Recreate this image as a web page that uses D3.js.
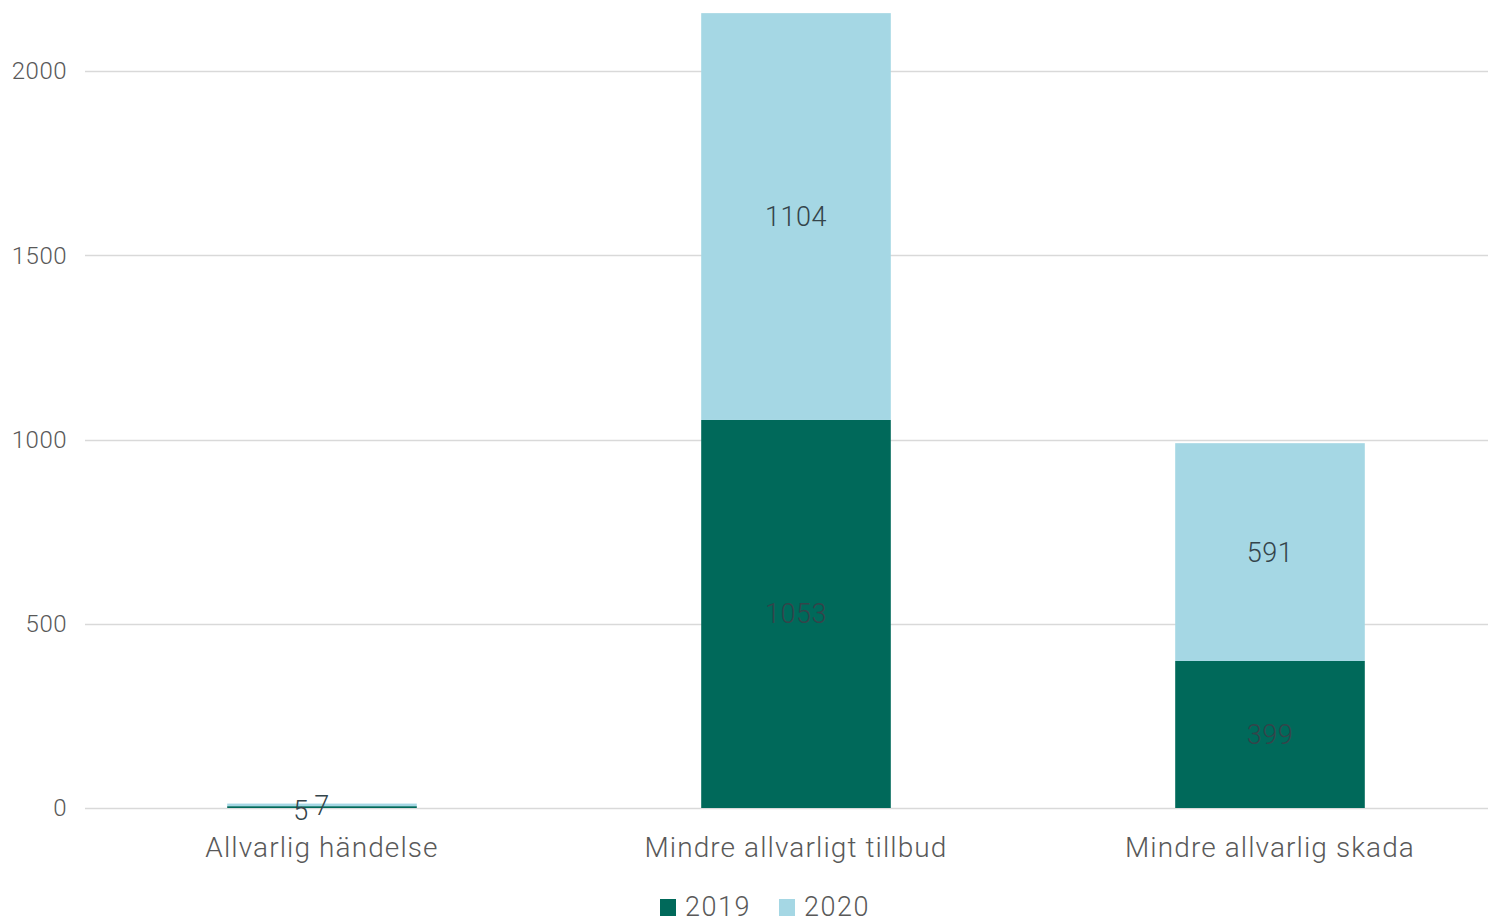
<!DOCTYPE html>
<html>
<head>
<meta charset="utf-8">
<script src="https://cdn.jsdelivr.net/npm/d3@7"></script>
<style>
  html, body { margin: 0; padding: 0; background: #fff; }
  svg { display: block; font-family: Roboto, "Liberation Sans", Arial, sans-serif; font-weight: 300; }
</style>
</head>
<body>
<svg id="chart" width="1488" height="923"></svg>
<script>
const categories = ["Allvarlig händelse", "Mindre allvarligt tillbud", "Mindre allvarlig skada"];
const seriesNames = ["2019", "2020"];
const values2019 = [5, 1053, 399];
const values2020 = [7, 1104, 591];
const yTicks = [0, 500, 1000, 1500, 2000];
const colors = ["#00695a", "#a5d7e4"];

(function () {
const svg = d3.select("#chart");
const W = 1488;
const left = 85, right = 1507, bottom = 808;

const x = d3.scaleBand().domain(categories).range([left, right]).paddingInner(0.6).paddingOuter(0.3);
const y = d3.scaleLinear().domain([0, 2000]).range([bottom, bottom - 737]);

// gridlines
svg.append("g").selectAll("line").data(yTicks).join("line")
  .attr("x1", left).attr("x2", W)
  .attr("y1", d => Math.round(y(d)) + 0.5).attr("y2", d => Math.round(y(d)) + 0.5)
  .attr("stroke", "#d9d9d9").attr("stroke-width", 1.5);

// y tick labels
svg.append("g").selectAll("text").data(yTicks).join("text")
  .attr("x", 67).attr("y", d => y(d)).attr("dy", "0.35em")
  .attr("text-anchor", "end").attr("font-size", 24).attr("fill", "#595959")
  .attr("letter-spacing", 0.5)
  .text(d => d);

const data = categories.map((c, i) => ({ cat: c, "2019": values2019[i], "2020": values2020[i] }));
const stacked = d3.stack().keys(seriesNames)(data);

const gBars = svg.append("g");
stacked.forEach((s, si) => {
  gBars.append("g").attr("fill", colors[si]).selectAll("rect").data(s).join("rect")
    .attr("x", d => x(d.data.cat))
    .attr("width", x.bandwidth())
    .attr("y", d => y(d[1]))
    .attr("height", d => y(d[0]) - y(d[1]));
});

// value labels
const gLab = svg.append("g");
stacked.forEach((s, si) => {
  gLab.selectAll(null).data(s).join("text")
    .attr("x", d => {
      const cx = x(d.data.cat) + x.bandwidth() / 2;
      const small = (y(d[0]) - y(d[1])) < 20;
      return small ? cx + (si === 0 ? -21 : 0) : cx;
    })
    .attr("y", d => {
      const small = (y(d[0]) - y(d[1])) < 20;
      return small ? (si === 0 ? 811 : 806) : (y(d[0]) + y(d[1])) / 2;
    })
    .attr("dy", "0.35em")
    .attr("text-anchor", "middle").attr("font-size", 27)
    .attr("fill", "#34444a")
    .attr("letter-spacing", 0.5)
    .text(d => d.data[s.key]);
});

// category labels
svg.append("g").selectAll("text").data(categories).join("text")
  .attr("x", d => x(d) + x.bandwidth() / 2)
  .attr("y", 857)
  .attr("text-anchor", "middle").attr("font-size", 28).attr("fill", "#595959")
  .attr("letter-spacing", 1.1)
  .text(d => d);

// legend
const legend = svg.append("g");
const legendX = [660, 779];
seriesNames.forEach((n, i) => {
  legend.append("rect").attr("x", legendX[i]).attr("y", 899).attr("width", 16).attr("height", 17).attr("fill", colors[i]);
  legend.append("text").attr("x", legendX[i] + 25).attr("y", 916)
    .attr("font-size", 27).attr("fill", "#595959").attr("letter-spacing", 1.5).text(n);
});
})();
</script>
</body>
</html>
